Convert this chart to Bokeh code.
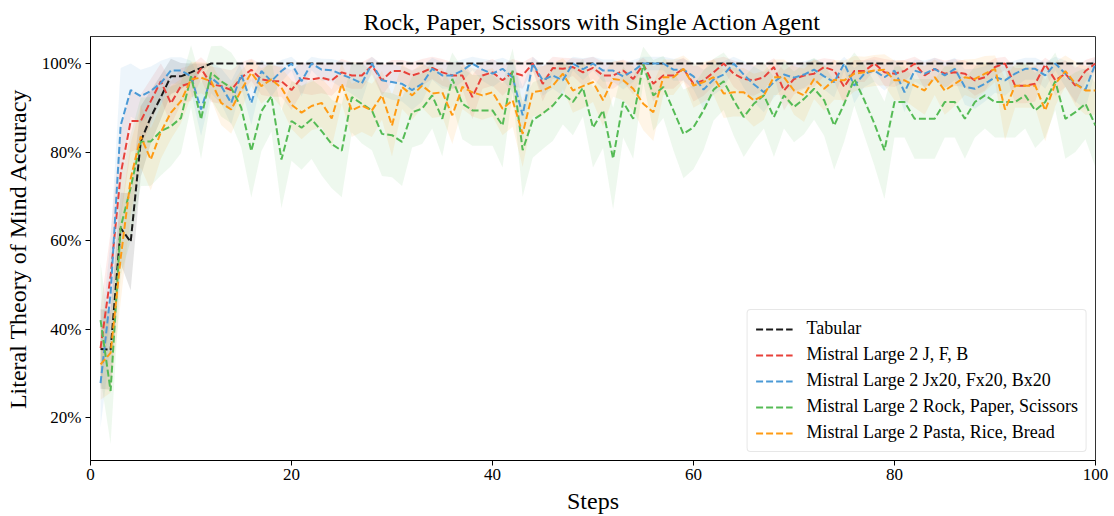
from bokeh.plotting import figure
from bokeh.models import Range1d, FixedTicker, PrintfTickFormatter, Legend
from bokeh.embed import file_html
from bokeh.resources import INLINE

steps = list(range(1, 101))

tabular = [35.5, 35.3, 62.8, 59.7, 82.4, 87.9, 92.4, 97.1, 97.1, 98.0,
           99.0, 100, 100, 100, 100, 100, 100, 100, 100, 100,
           100, 100, 100, 100, 100, 100, 100, 100, 100, 100,
           100, 100, 100, 100, 100, 100, 100, 100, 100, 100,
           100, 100, 100, 100, 100, 100, 100, 100, 100, 100,
           100, 100, 100, 100, 100, 100, 100, 100, 100, 100,
           100, 100, 100, 100, 100, 100, 100, 100, 100, 100,
           100, 100, 100, 100, 100, 100, 100, 100, 100, 100,
           100, 100, 100, 100, 100, 100, 100, 100, 100, 100,
           100, 100, 100, 100, 100, 100, 100, 100, 100, 100]
tabular_sd = [9, 9, 8, 11, 8, 6, 5, 4, 3, 2,
              1, 0, 0, 0, 0, 0, 0, 0, 0, 0,
              0, 0, 0, 0, 0, 0, 0, 0, 0, 0,
              0, 0, 0, 0, 0, 0, 0, 0, 0, 0,
              0, 0, 0, 0, 0, 0, 0, 0, 0, 0,
              0, 0, 0, 0, 0, 0, 0, 0, 0, 0,
              0, 0, 0, 0, 0, 0, 0, 0, 0, 0,
              0, 0, 0, 0, 0, 0, 0, 0, 0, 0,
              0, 0, 0, 0, 0, 0, 0, 0, 0, 0,
              0, 0, 0, 0, 0, 0, 0, 0, 0, 0]

jfb = [35.7, 52.0, 75.0, 87.0, 87.0, 91.5, 96.0, 91.0, 94.9, 95.6,
       98.9, 95.3, 94.9, 94.0, 96.8, 98.6, 96.4, 96.0, 96.0, 94.0,
       96.8, 96.4, 96.8, 96.2, 98.0, 97.3, 97.3, 99.5, 96.2, 98.3,
       98.3, 97.3, 98.0, 99.0, 98.0, 97.3, 97.3, 92.4, 97.3, 98.0,
       96.2, 98.0, 97.3, 100, 95.4, 99.0, 98.8, 99.2, 98.0, 99.0,
       97.3, 97.3, 98.4, 96.5, 99.8, 95.4, 97.3, 97.3, 98.8, 95.4,
       96.2, 98.0, 100, 97.7, 96.5, 96.2, 96.9, 99.2, 93.9, 96.5,
       97.3, 97.7, 99.2, 98.4, 94.7, 98.3, 98.3, 100, 98.0, 97.7,
       98.3, 100, 97.3, 98.8, 97.7, 98.0, 97.7, 96.2, 96.9, 99.2,
       100, 95.0, 95.0, 95.4, 99.8, 96.2, 97.7, 95.0, 98.3, 100]
jfb_sd = [9, 10, 10, 7, 6, 5, 4, 5, 4, 4,
          2.5, 4, 4, 4.5, 3.5, 2.5, 3.5, 3.5, 3.5, 4.5,
          3.5, 3.5, 3.5, 3.5, 3, 3, 3, 2, 3.5, 2.5,
          2.5, 3, 3, 2.5, 3, 3, 3, 5, 3, 3,
          3.5, 3, 3, 1.5, 4, 2.5, 2.5, 2, 3, 2.5,
          3, 3, 2.5, 3.5, 1.5, 4, 3, 3, 2.5, 4,
          3.5, 3, 1.5, 3, 3.5, 3.5, 3, 2, 4.5, 3.5,
          3, 3, 2, 2.5, 4, 2.5, 2.5, 1.5, 3, 3,
          2.5, 1.5, 3, 2.5, 3, 3, 3, 3.5, 3, 2,
          1.5, 4, 4, 4, 1.5, 3.5, 3, 4, 2.5, 1.5]

jfb20 = [27.8, 48.0, 86.0, 94.0, 92.6, 93.8, 95.6, 98.4, 98.4, 97.1,
         89.6, 96.8, 94.9, 91.1, 97.5, 91.1, 98.3, 96.0, 98.3, 100,
         96.0, 100, 98.6, 98.5, 97.5, 96.6, 95.5, 100, 96.2, 95.8,
         95.4, 94.0, 95.4, 98.8, 97.3, 97.3, 98.4, 100, 98.6, 97.7,
         98.8, 96.9, 88.3, 100, 96.2, 97.3, 96.2, 100, 98.7, 100,
         98.4, 98.4, 97.1, 98.3, 100, 100, 100, 98.6, 98.6, 97.1,
         94.1, 96.4, 97.5, 100, 97.5, 95.3, 93.5, 95.8, 97.5, 96.8,
         97.5, 98.6, 97.1, 95.8, 100, 95.0, 97.7, 98.4, 96.9, 98.4,
         93.5, 98.4, 97.7, 98.8, 97.3, 98.8, 94.7, 94.3, 95.4, 96.9,
         96.2, 97.7, 98.8, 98.8, 97.3, 100, 97.7, 95.4, 94.1, 100]
jfb20_sd = [10, 12, 13, 6, 6, 5.5, 5, 3, 3, 3.5,
            6, 3.5, 4, 5, 3, 5, 2.5, 3.5, 2.5, 1.5,
            3.5, 1.5, 2.5, 2.5, 3, 3.5, 4, 1.5, 3.5, 4,
            4, 4.5, 4, 2.5, 3, 3, 2.5, 1.5, 2.5, 3,
            2.5, 3.5, 6.5, 1.5, 3.5, 3, 3.5, 1.5, 2.5, 1.5,
            2.5, 2.5, 3, 2.5, 1.5, 1.5, 1.5, 2.5, 2.5, 3,
            4.5, 3.5, 3, 1.5, 3, 4, 4.5, 3.5, 3, 3,
            3, 2.5, 3, 3.5, 1.5, 4, 3, 2.5, 3, 2.5,
            4.5, 2.5, 3, 2.5, 3, 2.5, 4, 4.5, 4, 3.5,
            3.5, 3, 2.5, 2.5, 3, 1.5, 3, 4, 4.5, 1.5]

rps = [42.0, 26.0, 63.0, 72.0, 82.3, 82.4, 84.7, 85.8, 87.7, 97.1,
       87.4, 97.9, 96.0, 94.5, 90.0, 80.2, 89.2, 92.6, 78.3, 87.0,
       85.5, 87.4, 84.7, 81.8, 80.3, 92.4, 90.9, 89.4, 84.1, 83.8,
       82.3, 89.0, 89.8, 92.8, 87.5, 96.5, 90.9, 89.4, 89.4, 89.4,
       86.0, 98.4, 80.4, 87.2, 88.7, 90.5, 93.2, 91.3, 94.5, 85.5,
       89.4, 78.5, 91.3, 87.5, 99.8, 92.8, 94.7, 89.4, 84.1, 85.6,
       89.4, 94.1, 96.0, 91.7, 87.9, 90.9, 92.8, 87.9, 92.8, 90.2,
       92.0, 94.3, 91.7, 86.0, 90.9, 96.5, 91.7, 86.4, 80.4, 91.3,
       91.3, 87.5, 87.5, 87.5, 91.3, 91.3, 87.5, 91.3, 92.8, 91.3,
       91.3, 91.3, 92.8, 89.4, 91.3, 96.0, 87.5, 89.0, 90.9, 86.0]
rps_sd = [13, 12, 11, 12, 10, 10, 10, 9, 8, 7,
          9, 6, 8, 8, 9, 10.5, 9, 8, 11, 9,
          9.5, 9, 10, 10, 10.5, 8, 9, 9, 9.5, 9.5,
          10, 8, 8, 7.5, 8.5, 6, 8, 8, 8, 8,
          9.5, 5, 10.5, 8.5, 8, 8, 7, 7.5, 6.5, 9,
          8.5, 11.5, 8, 9, 4, 8, 7, 9, 10, 9.5,
          9, 7, 6.5, 8, 9, 8.5, 7.5, 9, 7.5, 8,
          8, 7, 8, 10, 8.5, 6, 8, 9.5, 11, 8,
          8, 9, 9, 9, 8, 8, 9, 8, 7.5, 8,
          8, 8, 7.5, 8.5, 8, 6.5, 9, 9, 8, 9.5]

prb = [32.0, 34.6, 56.0, 74.0, 83.5, 78.3, 84.5, 88.9, 91.5, 96.4,
       96.8, 96.0, 91.1, 89.6, 94.0, 97.9, 94.9, 96.4, 94.5, 90.7,
       88.9, 90.4, 91.1, 87.6, 95.4, 89.4, 90.5, 89.4, 92.8, 86.0,
       94.7, 92.8, 95.0, 93.2, 93.5, 88.3, 94.7, 93.5, 92.8, 93.5,
       89.8, 91.7, 84.1, 93.5, 93.9, 95.0, 97.7, 93.9, 94.9, 95.8,
       91.7, 96.5, 96.2, 94.3, 90.9, 89.0, 96.9, 96.9, 98.8, 95.0,
       95.8, 96.9, 93.2, 93.5, 93.5, 91.7, 92.8, 96.9, 96.9, 93.9,
       92.8, 96.5, 94.3, 96.3, 96.2, 97.7, 98.0, 98.4, 98.6, 96.2,
       96.2, 95.0, 93.9, 96.9, 93.9, 95.4, 96.9, 96.5, 97.7, 98.8,
       89.6, 95.0, 95.0, 95.0, 89.4, 95.4, 98.3, 95.4, 93.9, 93.9]
prb_sd = [8, 9, 10, 8, 7, 7, 6, 6, 5, 4,
          3.5, 4, 5, 5.5, 4.5, 3, 4, 3.5, 4.5, 5.5,
          6, 5.5, 5.5, 6.5, 4.5, 6, 6, 6, 5.5, 7,
          5, 5.5, 5, 5.5, 5.5, 6.5, 5, 5.5, 5.5, 5.5,
          6, 6, 7.5, 5.5, 5.5, 5, 3.5, 5, 5, 4.5,
          6, 4, 4.5, 5, 6, 6.5, 4, 4, 3, 5,
          4.5, 4, 5.5, 5.5, 5.5, 6, 5.5, 4, 4, 5.5,
          6, 4.5, 5, 4.5, 4.5, 4, 3.5, 3.5, 3.5, 4.5,
          4.5, 5, 5.5, 4, 5.5, 5, 4, 4.5, 4, 3,
          7, 5, 5, 5, 7, 5, 3.5, 5, 5.5, 5.5]

series_names = ["Tabular", "Mistral Large 2 J, F, B", "Mistral Large 2 Jx20, Fx20, Bx20",
                "Mistral Large 2 Rock, Paper, Scissors", "Mistral Large 2 Pasta, Rice, Bread"]
series_vals = [tabular, jfb, jfb20, rps, prb]
series_sds = [tabular_sd, jfb_sd, jfb20_sd, rps_sd, prb_sd]
colors = ["#1a1a1a", "#e8413a", "#4b9ad6", "#55bb55", "#ff9b13"]
band_colors = ["#000000", "#e8413a", "#4b9ad6", "#55bb55", "#ff9b13"]

x_ticks = [0, 20, 40, 60, 80, 100]
y_ticks = [20, 40, 60, 80, 100]

FONT = "Liberation Serif"

p = figure(width=1114, height=516, output_backend="svg", toolbar_location=None,
           x_range=Range1d(0, 100), y_range=Range1d(10.3, 106.1),
           min_border_left=90, min_border_right=19, min_border_top=36, min_border_bottom=55)

p.title.text = "Rock, Paper, Scissors with Single Action Agent"
p.title.align = "center"
p.title.text_font = FONT
p.title.text_font_size = "24px"
p.title.text_font_style = "normal"
p.title.text_color = "#000000"
p.title.standoff = 4

for vals, sds, bc in zip(series_vals, series_sds, band_colors):
    lo = [v - s for v, s in zip(vals, sds)]
    hi = [v + s for v, s in zip(vals, sds)]
    p.varea(x=steps, y1=lo, y2=hi, fill_color=bc, fill_alpha=0.1)

renderers = []
for vals, name, c in zip(series_vals, series_names, colors):
    r = p.line(x=steps, y=vals, line_color=c, line_width=2, line_dash="7 3")
    renderers.append((name, [r]))

legend = Legend(items=renderers, location="bottom_right")
legend.label_text_font = FONT
legend.label_text_font_size = "18px"
legend.label_text_color = "#000000"
legend.glyph_width = 37
legend.glyph_height = 20
legend.label_height = 20
legend.label_standoff = 14
legend.spacing = 5
legend.padding = 8
legend.margin = 8
legend.border_line_color = "#d0d0d0"
legend.border_line_width = 1
legend.background_fill_color = "white"
legend.background_fill_alpha = 0.85
try:
    legend.border_radius = 4
except Exception:
    pass
p.add_layout(legend)

p.xgrid.visible = False
p.ygrid.visible = False
p.outline_line_color = "#333333"
p.outline_line_width = 1

p.xaxis.ticker = FixedTicker(ticks=x_ticks)
p.yaxis.ticker = FixedTicker(ticks=y_ticks)
p.yaxis.formatter = PrintfTickFormatter(format="%d%%")

for ax in (p.xaxis[0], p.yaxis[0]):
    ax.axis_line_color = "#000000"
    ax.major_tick_line_color = "#000000"
    ax.major_tick_out = 5
    ax.major_tick_in = 0
    ax.minor_tick_line_color = None
    ax.major_label_text_font = FONT
    ax.major_label_text_font_size = "17px"
    ax.major_label_text_color = "#000000"
    ax.axis_label_text_font = FONT
    ax.axis_label_text_font_size = "24px"
    ax.axis_label_text_font_style = "normal"
    ax.axis_label_text_color = "#000000"

p.xaxis.axis_label = "Steps"
p.yaxis.axis_label = "Literal Theory of Mind Accuracy"
p.xaxis.major_label_standoff = 3
p.xaxis.axis_label_standoff = 5
p.yaxis.major_label_standoff = 4
p.yaxis.axis_label_standoff = 8

open("out.html", "w").write(file_html(p, INLINE))
